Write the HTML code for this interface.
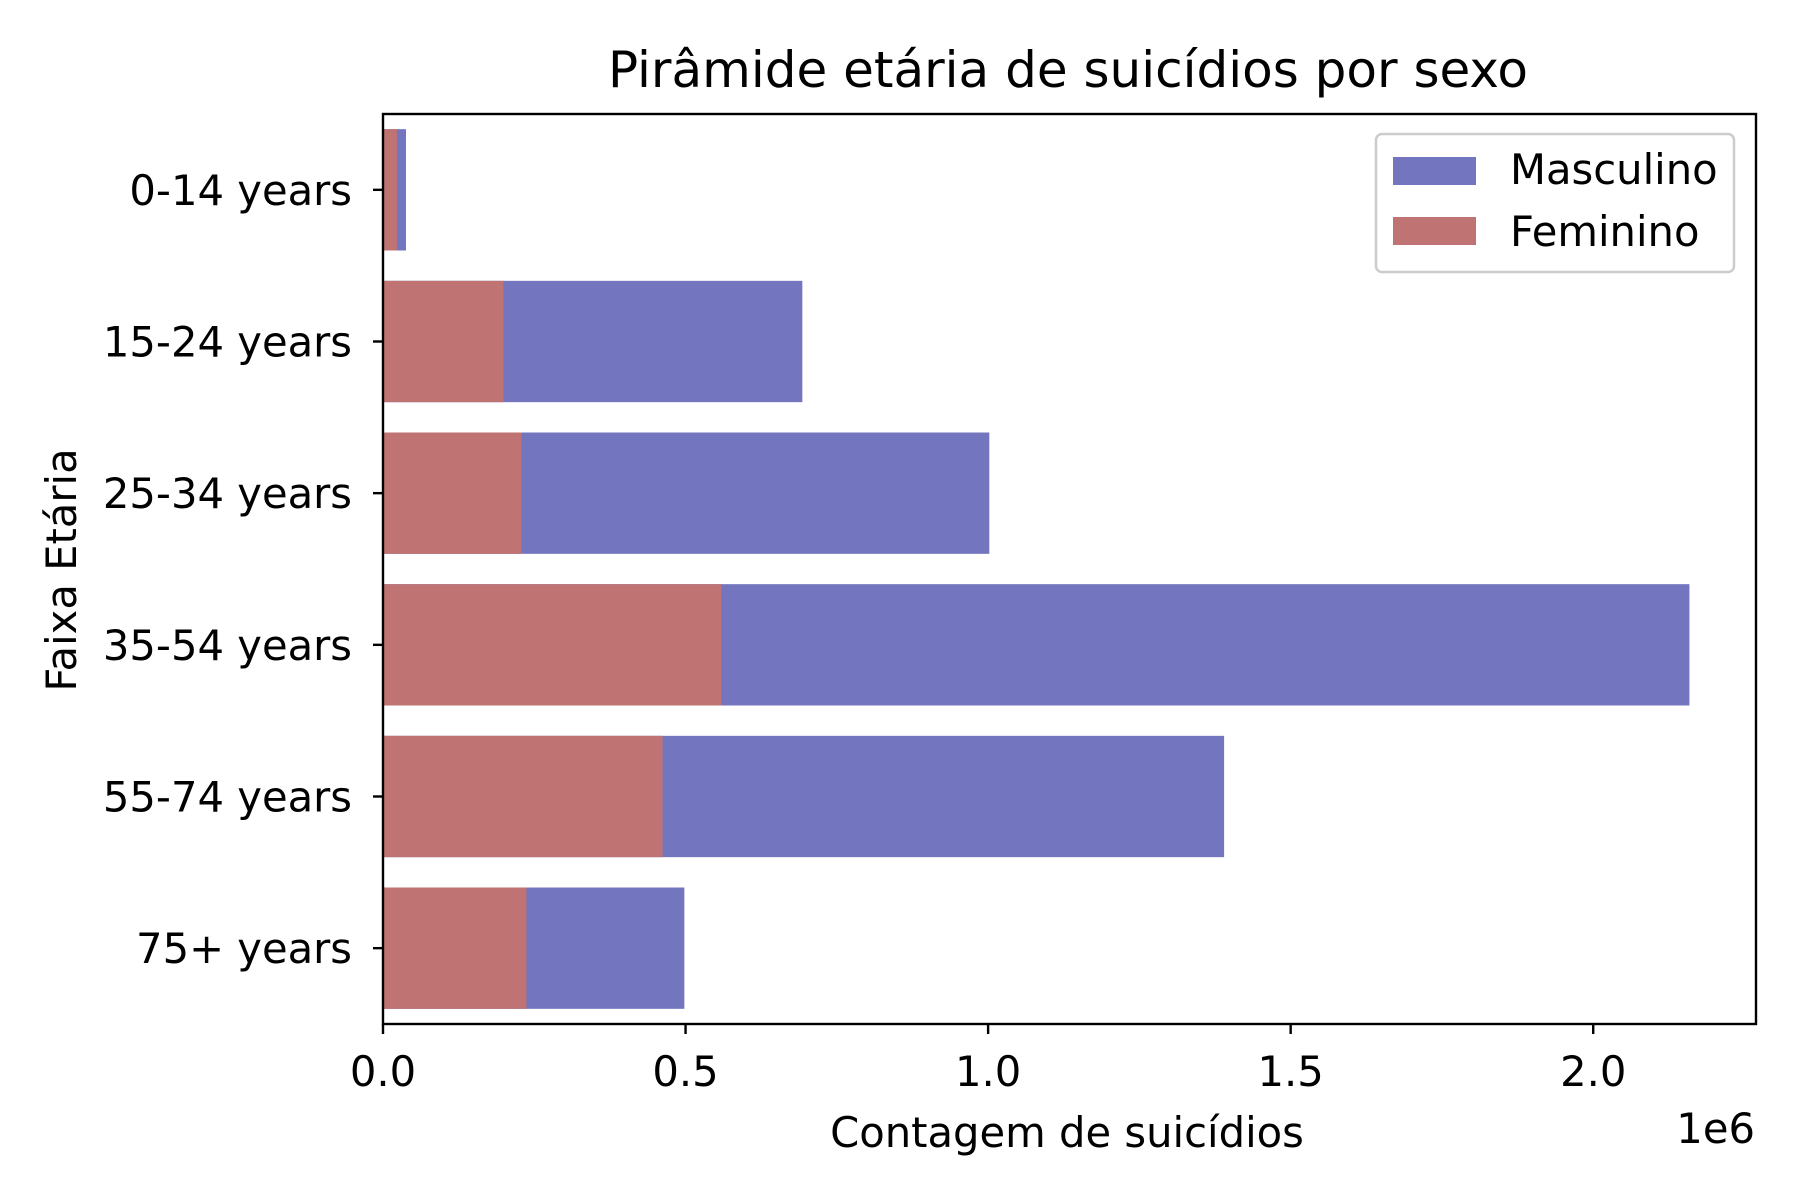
<!DOCTYPE html>
<html><head><meta charset="utf-8"><style>body{margin:0;background:#fff}svg{display:block;font-family:"DejaVu Sans","Liberation Sans",sans-serif}</style></head>
<body>
<svg id="chart" width="1800" height="1200" viewBox="0 0 1800 1200">
<text x="1068" y="87" font-size="50" text-anchor="middle">Pirâmide etária de suicídios por sexo</text>
<g id="bars"></g><g id="axes"></g>
<text x="1067" y="1147" font-size="41.7" text-anchor="middle">Contagem de suicídios</text>
<text transform="translate(76,570) rotate(-90)" font-size="41.7" text-anchor="middle">Faixa Etária</text>
<text x="1755" y="1143" font-size="41.7" text-anchor="end">1e6</text>
<g transform="translate(-8,0)">
<rect x="1384" y="134" width="358" height="138" rx="6" fill="#fff" fill-opacity="0.8" stroke="#ccc" stroke-width="2.5"/>
<rect x="1401" y="157" width="83" height="28" fill="#7475bf"/>
<text x="1518" y="184" font-size="41.7">Masculino</text>
<rect x="1401" y="217" width="83" height="28" fill="#bf7372"/>
<text x="1518" y="246" font-size="41.7">Feminino</text>
</g>
</svg>
<script>
const categories = ["0-14 years","15-24 years","25-34 years","35-54 years","55-74 years","75+ years"];
const maleValues = [38000,693000,1002000,2159000,1390000,498000];
const femaleValues = [23000,199000,229000,559000,462000,237000];
const xTicks = [0,0.5e6,1.0e6,1.5e6,2.0e6];
const xTickLabels = ["0.0","0.5","1.0","1.5","2.0"];
const NS="http://www.w3.org/2000/svg";
const L=383,R=1756,T=114,B=1024,XMAX=2.269e6;
const x=v=>L+(R-L)*v/XMAX;
const band=(B-T)/categories.length;
const yc=i=>T+band*(i+0.5);
function mk(tag,attrs,parent){const e=document.createElementNS(NS,tag);for(const k in attrs)e.setAttribute(k,attrs[k]);parent.appendChild(e);return e;}
const bars=document.getElementById('bars'),axes=document.getElementById('axes');
categories.forEach((c,i)=>{
  const h=band*0.8;
  let m=mk('rect',{x:x(0),y:yc(i)-h/2,width:x(maleValues[i])-x(0),height:h,fill:'#7475bf'},bars);
  
  
  let f=mk('rect',{x:x(0),y:yc(i)-h/2,width:x(femaleValues[i])-x(0),height:h,fill:'#bf7372'},bars);
  
  
  mk('line',{x1:L,x2:L-10,y1:yc(i),y2:yc(i),stroke:'#000','stroke-width':2.4},axes);
  let t=mk('text',{x:L-31,y:yc(i)+15,'font-size':41.7,'text-anchor':'end'},axes);
  t.textContent=c;
  
  
});
xTicks.forEach((v,i)=>{
  mk('line',{x1:x(v),x2:x(v),y1:B,y2:B+10,stroke:'#000','stroke-width':2.4},axes);
  let t=mk('text',{x:x(v),y:B+62,'font-size':41.7,'text-anchor':'middle'},axes);
  t.textContent=xTickLabels[i];
  
  
});
let fr=mk('rect',{x:L,y:T,width:R-L,height:B-T,fill:'none',stroke:'#000','stroke-width':2.4},axes);


</script>
</body></html>
